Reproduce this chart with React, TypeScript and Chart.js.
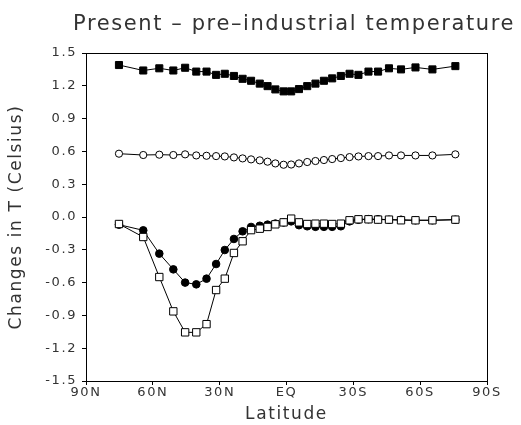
import React, { useEffect, useRef } from "react";
import { Chart, registerables } from "chart.js";

Chart.register(...registerables);

// Latitude of each grid band (positive = North, negative = South)
const latitudes = [
  75.2, 64.3, 57.1, 50.8, 45.5, 40.5, 35.9, 31.6, 27.7, 23.6, 19.7, 15.9, 12.0, 8.5, 5.0, 1.3,
  -2.1, -5.6, -9.3, -13.0, -16.8, -20.5, -24.4, -28.3, -32.3, -36.8, -41.1, -46.0, -51.4, -57.9, -65.5, -75.8,
];

// filled squares
const seriesFilledSquares = [
  1.39, 1.34, 1.36, 1.34, 1.365, 1.33, 1.33, 1.30, 1.31, 1.29, 1.264, 1.246, 1.22, 1.197, 1.167, 1.149,
  1.149, 1.17, 1.197, 1.22, 1.246, 1.268, 1.29, 1.31, 1.30, 1.33, 1.33, 1.36, 1.35, 1.368, 1.35, 1.38,
];

// open circles
const seriesOpenCircles = [
  0.579, 0.567, 0.57, 0.567, 0.573, 0.563, 0.56, 0.557, 0.554, 0.545, 0.536, 0.527, 0.518, 0.506, 0.49, 0.478,
  0.48, 0.49, 0.503, 0.512, 0.521, 0.53, 0.539, 0.548, 0.554, 0.557, 0.557, 0.563, 0.563, 0.563, 0.563, 0.573,
];

// filled circles
const seriesFilledCircles = [
  -0.07, -0.122, -0.335, -0.479, -0.60, -0.616, -0.564, -0.43, -0.302, -0.201, -0.131, -0.091, -0.08, -0.07, -0.06, -0.05,
  -0.04, -0.075, -0.085, -0.09, -0.09, -0.09, -0.085, -0.04, -0.025, -0.02, -0.02, -0.025, -0.025, -0.03, -0.03, -0.025,
];

// open squares
const seriesOpenSquares = [
  -0.064, -0.183, -0.549, -0.863, -1.055, -1.055, -0.98, -0.668, -0.564, -0.329, -0.222, -0.12, -0.107, -0.091, -0.067, -0.049,
  -0.015, -0.049, -0.064, -0.061, -0.061, -0.064, -0.061, -0.03, -0.021, -0.021, -0.024, -0.024, -0.03, -0.03, -0.03, -0.024,
];

const titleText = "Present \u2013 pre\u2013industrial temperature";
const xAxisTitle = "Latitude";
const yAxisTitle = "Changes in T (Celsius)";

const FONT = "'DejaVu Sans', 'Liberation Sans', sans-serif";
const TEXT_COLOR = "#333";

const toPoints = (vals: number[]) => vals.map((v, i) => ({ x: latitudes[i], y: v }));

const spacingPlugin = {
  id: "spacing",
  beforeUpdate(chart: any) {
    chart.ctx.letterSpacing = "1.6px";
  },
  beforeDraw(chart: any) {
    chart.ctx.letterSpacing = "1.6px";
  },
};

const framePlugin = {
  id: "frame",
  beforeDatasetsDraw(chart: any) {
    const { ctx, chartArea } = chart;
    ctx.save();
    ctx.strokeStyle = "#000";
    ctx.lineWidth = 1;
    ctx.strokeRect(
      Math.round(chartArea.left) + 0.5,
      Math.round(chartArea.top) + 0.5,
      Math.round(chartArea.right - chartArea.left),
      Math.round(chartArea.bottom - chartArea.top)
    );
    ctx.restore();
  },
};

export default function App() {
  const canvasRef = useRef<HTMLCanvasElement | null>(null);

  useEffect(() => {
    if (!canvasRef.current) return;
    const common = {
      borderColor: "#000",
      borderWidth: 1,
      pointBorderColor: "#000",
      pointBorderWidth: 1,
      showLine: true,
    };
    const chart = new Chart(canvasRef.current, {
      type: "scatter",
      data: {
        datasets: [
          {
            ...common,
            data: toPoints(seriesFilledSquares),
            pointStyle: "rect",
            pointRadius: 5,
            pointBackgroundColor: "#000",
            order: 2,
          },
          {
            ...common,
            data: toPoints(seriesOpenCircles),
            pointStyle: "circle",
            pointRadius: 3.6,
            pointBackgroundColor: "#fff",
            order: 2,
          },
          {
            ...common,
            data: toPoints(seriesFilledCircles),
            pointStyle: "circle",
            pointRadius: 3.8,
            pointBackgroundColor: "#000",
            order: 3,
          },
          {
            ...common,
            data: toPoints(seriesOpenSquares),
            pointStyle: "rect",
            pointRadius: 5.2,
            pointBackgroundColor: "#fff",
            order: 1,
          },
        ],
      },
      options: {
        responsive: false,
        animation: false,
        events: [],
        layout: { padding: { left: 6, right: 6, top: 0, bottom: 0 } },
        plugins: {
          legend: { display: false },
          tooltip: { enabled: false },
          title: {
            display: true,
            fullSize: true,
            align: "end",
            text: titleText,
            color: TEXT_COLOR,
            font: { family: FONT, size: 21, weight: "normal" },
            padding: { top: 12, bottom: 15.8 },
          },
        },
        scales: {
          x: {
            type: "linear",
            min: -90,
            max: 90,
            reverse: true,
            afterFit(scale: any) {
              scale.height = 44;
            },
            ticks: {
              stepSize: 30,
              color: TEXT_COLOR,
              font: { family: FONT, size: 13 },
              padding: 0,
              maxRotation: 0,
              callback: (v: any) => (v === 0 ? "EQ" : v > 0 ? `${v}N` : `${-v}S`),
            },
            grid: { drawOnChartArea: false, drawTicks: true, tickLength: 4, color: "#000" },
            border: { display: true, color: "#000" },
            title: {
              display: true,
              text: xAxisTitle,
              color: TEXT_COLOR,
              font: { family: FONT, size: 17 },
              padding: { top: 0, bottom: 0 },
            },
          },
          y: {
            min: -1.5,
            max: 1.5,
            afterFit(scale: any) {
              scale.width = 80;
            },
            ticks: {
              stepSize: 0.3,
              color: TEXT_COLOR,
              font: { family: FONT, size: 13 },
              padding: 5,
              callback: (v: any) => Number(v).toFixed(1),
            },
            grid: { drawOnChartArea: false, drawTicks: true, tickLength: 4, color: "#000" },
            border: { display: true, color: "#000" },
            title: {
              display: true,
              text: yAxisTitle,
              color: TEXT_COLOR,
              font: { family: FONT, size: 17 },
              padding: { top: 0, bottom: 4 },
            },
          },
          yRight: {
            position: "right",
            min: -1.5,
            max: 1.5,
            afterFit(scale: any) {
              scale.width = 28;
            },
            ticks: { display: false },
            grid: { display: false },
            border: { display: false },
          },
        },
      },
      plugins: [spacingPlugin, framePlugin],
    });
    return () => chart.destroy();
  }, []);

  return (
    <div style={{ position: "absolute", left: 0, top: 0, width: 521, height: 425, background: "#fff" }}>
      <canvas ref={canvasRef} width={521} height={425} style={{ display: "block" }} />
    </div>
  );
}
